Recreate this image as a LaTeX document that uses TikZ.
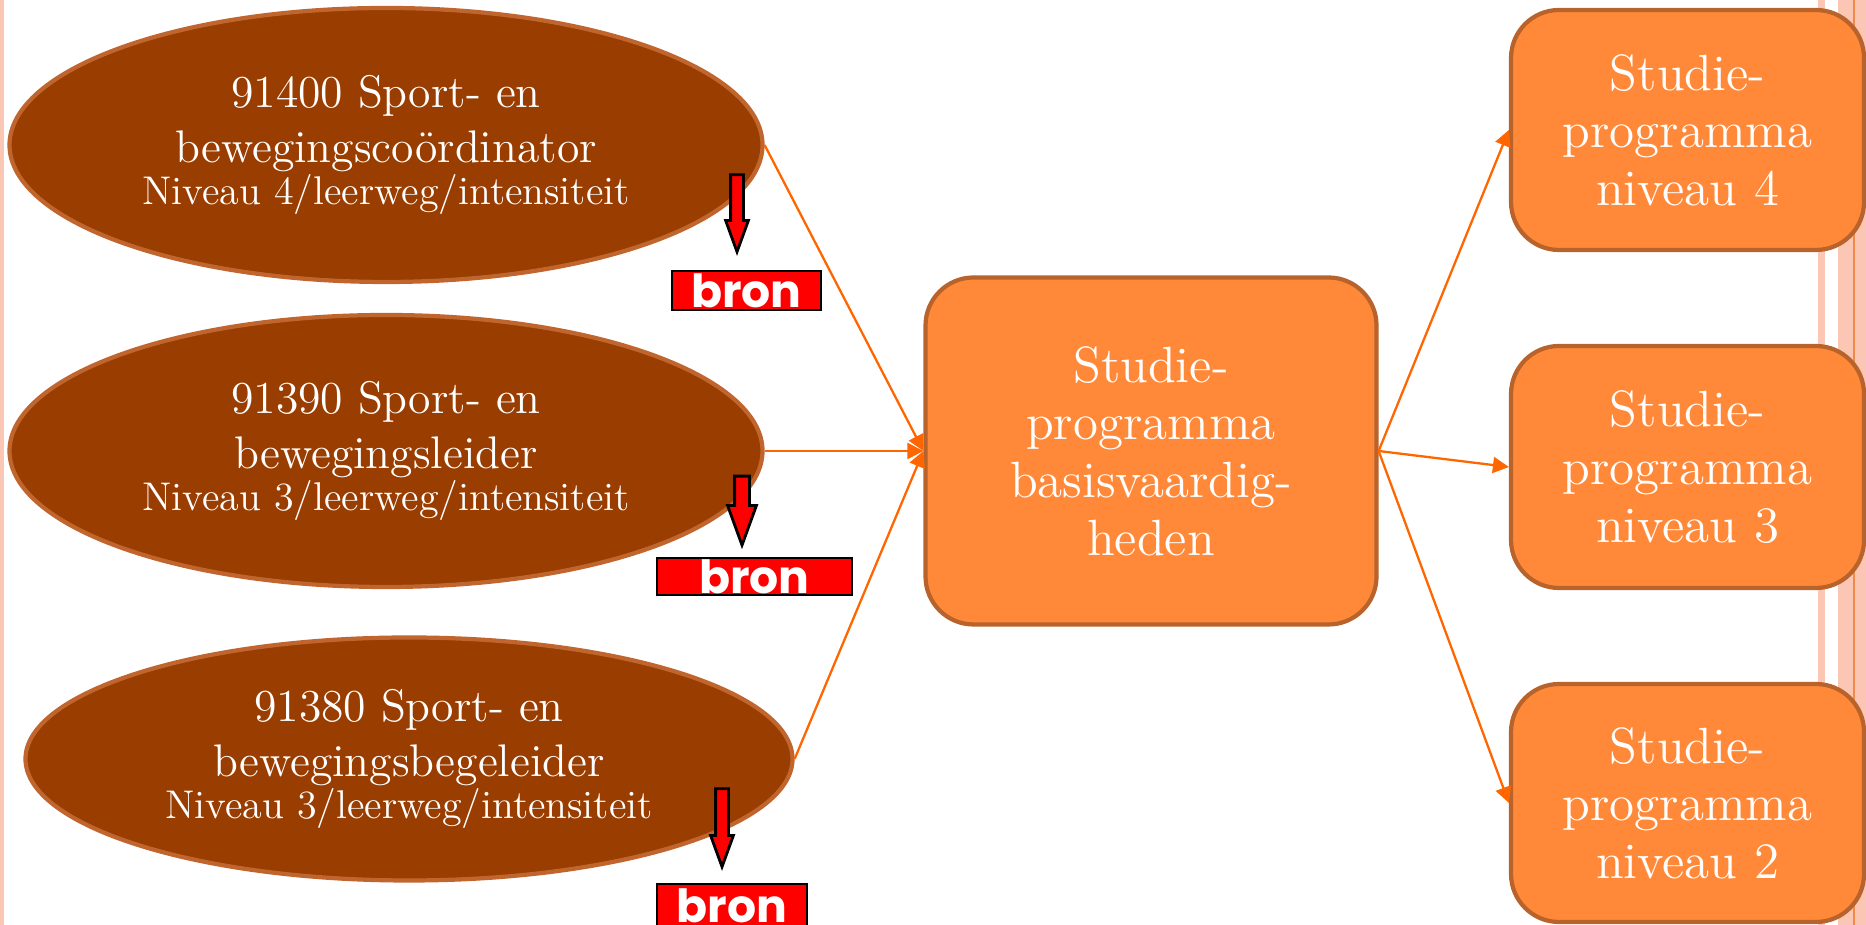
\documentclass[tikz,border=0pt]{standalone}
\usepackage{fontspec}
\usepackage{tikz}
\usetikzlibrary{arrows.meta,shapes.geometric,shapes.arrows}
\newfontfamily\bronfont{Poppins}
\definecolor{ovalfill}{RGB}{153,61,0}
\definecolor{ovalline}{RGB}{192,101,45}
\definecolor{boxfill}{RGB}{255,137,56}
\definecolor{boxline}{RGB}{184,98,44}
\definecolor{linkcol}{RGB}{255,102,0}
\definecolor{stripe}{RGB}{252,198,180}
\definecolor{stripeline}{RGB}{240,138,75}

\begin{document}
\begin{tikzpicture}[oval/.style={ellipse, draw=ovalline, line width=1.2pt, fill=ovalfill, text=white, inner sep=0pt, align=center, font=\fontsize{13}{15.6}\selectfont},
    box/.style={rectangle, rounded corners=0.48cm, draw=boxline, line width=1.2pt, fill=boxfill, text=white, align=center, font=\fontsize{14.5}{16.4}\selectfont},
    link/.style={draw=linkcol, line width=0.65pt, -{Triangle[length=1.6mm,width=1.6mm]}},
    bron/.style={draw=black, line width=0.8pt, fill=red, text=white, inner sep=0pt, font=\bronfont\bfseries\fontsize{13}{13}\selectfont},
    redarrow/.style={single arrow, draw=black, line width=0.8pt, fill=red, rotate=-90, inner xsep=0pt, inner ysep=0.05cm, single arrow head extend=0.05cm, single arrow tip angle=40}]
        \useasboundingbox (0,0) rectangle (18.66,9.25);
        % side stripes
        \fill[stripe] (0,0) rectangle (0.04,9.25);
        \fill[stripe] (18.18,0) rectangle (18.25,9.25);
        \fill[stripe] (18.38,0) rectangle (18.66,9.25);
        \draw[stripeline, line width=0.6pt] (18.54,0) -- (18.54,9.25);

        \node[oval, minimum width=7.53cm, minimum height=2.74cm] (coord) at (3.86,7.80) {91400 Sport- en\\ bewegingscoördinator\\[-3.4pt] {\fontsize{11.4}{13}\selectfont Niveau 4/leerweg/intensiteit}};
        \node[oval, minimum width=7.53cm, minimum height=2.72cm] (leider) at (3.86,4.74) {91390 Sport- en\\ bewegingsleider\\[-3.4pt] {\fontsize{11.4}{13}\selectfont Niveau 3/leerweg/intensiteit}};
        \node[oval, minimum width=7.67cm, minimum height=2.43cm] (begeleider) at (4.09,1.66) {91380 Sport- en\\ bewegingsbegeleider\\[-3.4pt] {\fontsize{11.4}{13}\selectfont Niveau 3/leerweg/intensiteit}};

        \node[box, minimum width=4.51cm, minimum height=3.47cm] (basis) at (11.51,4.74) {Studie-\\ programma\\ basisvaardig-\\ heden};
        \node[box, minimum width=3.53cm, minimum height=2.40cm] (niv4) at (16.875,7.95) {Studie-\\ programma\\ niveau 4};
        \node[box, minimum width=3.53cm, minimum height=2.42cm] (niv3) at (16.875,4.58) {Studie-\\ programma\\ niveau 3};
        \node[box, minimum width=3.53cm, minimum height=2.38cm] (niv2) at (16.875,1.22) {Studie-\\ programma\\ niveau 2};

        \path (coord.center) ++(3.605,-1.455) node[bron, minimum width=1.49cm, minimum height=0.39cm] (bron1) {bron};
        \path (leider.center) ++(3.685,-1.255) node[bron, minimum width=1.95cm, minimum height=0.37cm] (bron2) {bron};
        \path (begeleider.center) ++(3.23,-1.465) node[bron, minimum width=1.50cm, minimum height=0.43cm] (bron3) {bron};
        \path (coord.center) ++(3.51,-0.595) node[redarrow, minimum height=0.77cm] (pijl1) {};
        \path (leider.center) ++(3.56,-0.495) node[redarrow, minimum height=0.69cm, inner ysep=0.06cm, single arrow head extend=0.07cm] (pijl2) {};
        \path (begeleider.center) ++(3.13,-0.60) node[redarrow, minimum height=0.78cm] (pijl3) {};

        \draw[link] (coord.east) -- (basis.west);
        \draw[link] (leider.east) -- (basis.west);
        \draw[link] (begeleider.east) -- (basis.west);
        \draw[link] (basis.east) -- (niv4.west);
        \draw[link] (basis.east) -- (niv3.west);
        \draw[link] (basis.east) -- (niv2.west);
    \end{tikzpicture}
\end{document}
